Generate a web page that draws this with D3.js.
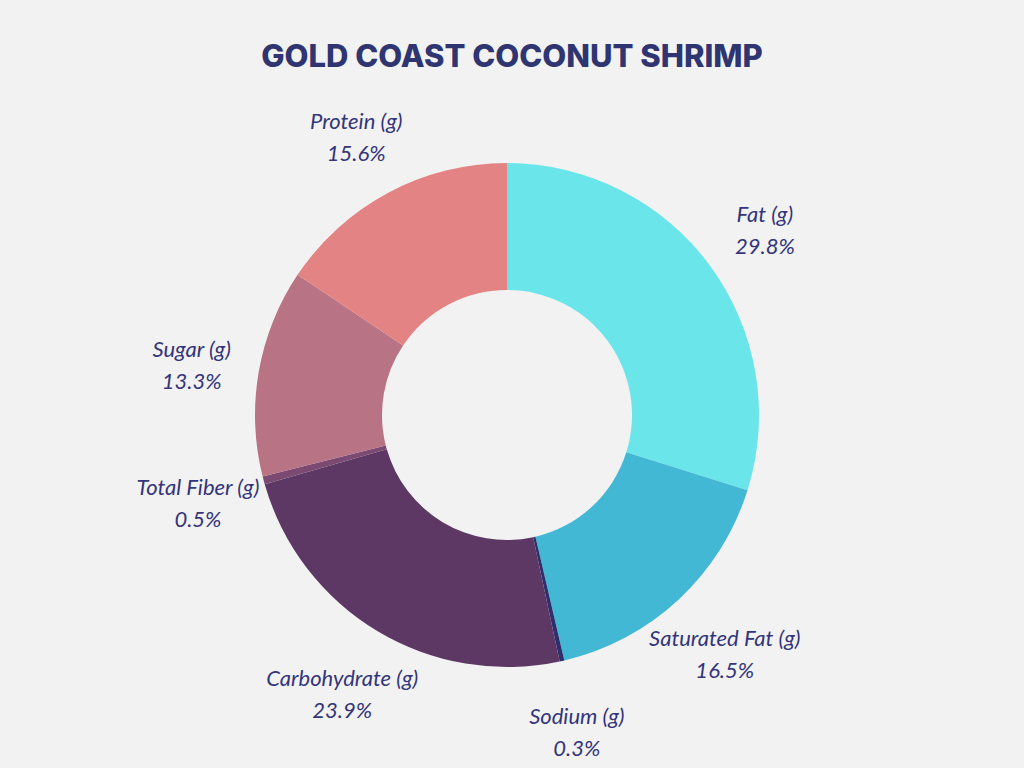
<!DOCTYPE html>
<html><head><meta charset="utf-8">
<script src="https://cdn.jsdelivr.net/npm/d3@7"></script>
<style>body{margin:0;background:#f2f2f2}</style>
</head><body>
<script>
var labels = ['Fat (g)','Saturated Fat (g)','Sodium (g)','Carbohydrate (g)','Total Fiber (g)','Sugar (g)','Protein (g)']
var values = [29.8,16.5,0.3,23.9,0.5,13.3,15.6]
var colors = ['#6AE6EA','#42B8D5','#2E2F6E','#5D3865','#7A4A72','#B87385','#E48383']

var width = 1024, height = 768, cx = 507, cy = 415
var svg = d3.select('body').append('svg').attr('width',width).attr('height',height)
svg.append('rect').attr('width',width).attr('height',height).attr('fill','#f2f2f2')

svg.append('text').attr('x',512).attr('y',67).attr('text-anchor','middle')
	.style('font-family','Inter, "Open Sans", sans-serif').style('font-weight','800')
	.style('font-size','31px').style('fill','#2E3570').text('GOLD COAST COCONUT SHRIMP')

var data = labels.map(function(l,i){ return {label:l,value:values[i],color:colors[i]} })
var pie = d3.pie().sort(null).value(function(d){return d.value})
var arcs = pie(data)
var arc = d3.arc().innerRadius(125).outerRadius(252)
var labelArc = d3.arc().innerRadius(320).outerRadius(320)

var g = svg.append('g').attr('transform','translate('+cx+','+cy+')')
g.selectAll('path').data(arcs).enter().append('path')
	.attr('d',arc).attr('fill',function(d){return d.data.color})

var lab = g.selectAll('text.lab').data(arcs).enter().append('text').attr('class','lab')
	.attr('transform',function(d){return 'translate('+labelArc.centroid(d)+')'})
	.attr('text-anchor','middle')
	.style('font-family','Lato, "Open Sans", sans-serif').style('font-style','italic')
	.style('font-size','22px').style('fill','#34357A')
lab.append('tspan').attr('x',0).attr('dy','-0.15em').text(function(d){return d.data.label})
lab.append('tspan').attr('x',0).attr('dy','1.45em').text(function(d){return d.data.value.toFixed(1)+'%'})
</script>
</body></html>
